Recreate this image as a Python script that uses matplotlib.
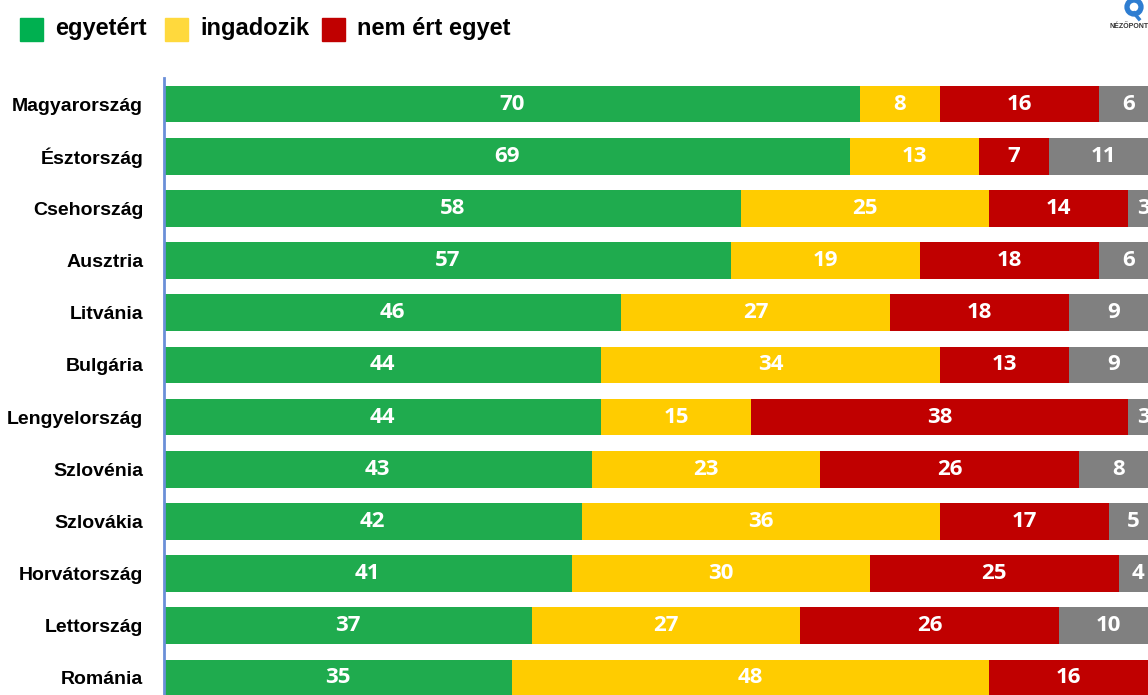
import numpy as np
import matplotlib
matplotlib.use("Agg")
import matplotlib.pyplot as plt
from matplotlib.patches import Rectangle, Circle
from matplotlib.lines import Line2D
from matplotlib.transforms import IdentityTransform

# adatok
orszagok = ["Magyarország", "Észtország", "Csehország", "Ausztria", "Litvánia",
            "Bulgária", "Lengyelország", "Szlovénia", "Szlovákia", "Horvátország",
            "Lettország", "Románia"]
egyetert = [70, 69, 58, 57, 46, 44, 44, 43, 42, 41, 37, 35]
ingadozik = [8, 13, 25, 19, 27, 34, 15, 23, 36, 30, 27, 48]
nem_ert_egyet = [16, 7, 14, 18, 18, 13, 38, 26, 17, 25, 26, 16]
egyeb = [6, 11, 3, 6, 9, 9, 3, 8, 5, 4, 10, 1]
legend_labels = ["egyetért", "ingadozik", "nem ért egyet"]

bar_colors = ["#1FAB4E", "#FFCC00", "#C00000", "#808080"]
legend_colors = ["#00B050", "#FFD93D", "#C00000"]

plt.rcParams['font.family'] = ['Liberation Sans Narrow', 'Liberation Sans', 'DejaVu Sans']

fig = plt.figure(figsize=(11.48, 6.95), dpi=100)
W, H = 1148, 695
# a tengely túlnyúlik a jobb és az alsó szélen (a minta le van vágva)
ax = fig.add_axes([164 / W, -9 / H, 994.3 / W, 626 / H])

y = np.arange(len(orszagok))
series = [egyetert, ingadozik, nem_ert_egyet, egyeb]
left = np.zeros(len(orszagok))
for vals, col in zip(series, bar_colors):
    vals = np.array(vals)
    ax.barh(y, vals, left=left, height=0.7, color=col, edgecolor="none")
    for yi, (l, v) in enumerate(zip(left, vals)):
        ax.text(l + v / 2, yi, str(v), ha="center", va="center", color="white",
                fontsize=16, fontweight="bold", family=["Open Sans", "DejaVu Sans"],
                clip_on=False)
    left += vals

ax.set_xlim(0, 100)
ax.set_ylim(len(orszagok) - 0.5, -0.5)
ax.set_yticks(y)
ax.set_yticklabels(orszagok, fontsize=14, fontweight="bold")
ax.tick_params(axis="y", length=0, pad=15)
ax.set_xticks([])
for s in ["top", "right", "bottom"]:
    ax.spines[s].set_visible(False)
ax.spines["left"].set_color("#6A8FD8")
ax.spines["left"].set_linewidth(2)

# jelmagyarázat
legend_x = [20, 165, 322]
for lx, lab, col in zip(legend_x, legend_labels, legend_colors):
    fig.patches.append(Rectangle((lx / W, 1 - 41 / H), 23 / W, 23 / H,
                                 transform=fig.transFigure, color=col))
    fig.text((lx + 35) / W, 1 - 29 / H, lab, fontsize=17, fontweight="bold",
             va="center", ha="left", family=["Liberation Sans", "DejaVu Sans"])

# logó (pixelben, bal alsó saroktól)
fig.patches.append(Circle((1134, H - 7), 7, transform=IdentityTransform(),
                          fill=False, edgecolor="#2E7DD1", linewidth=3.8))
fig.lines.append(Line2D([1134, 1139], [H - 13, H - 19], transform=IdentityTransform(),
                        color="#2E7DD1", linewidth=2.5))
fig.text(1129 / W, 1 - 27 / H, "NÉZŐPONT", fontsize=5, fontweight="bold",
         ha="center", va="center", color="#333333",
         family=["Liberation Sans", "DejaVu Sans"])

fig.savefig("out.png", dpi=100)
